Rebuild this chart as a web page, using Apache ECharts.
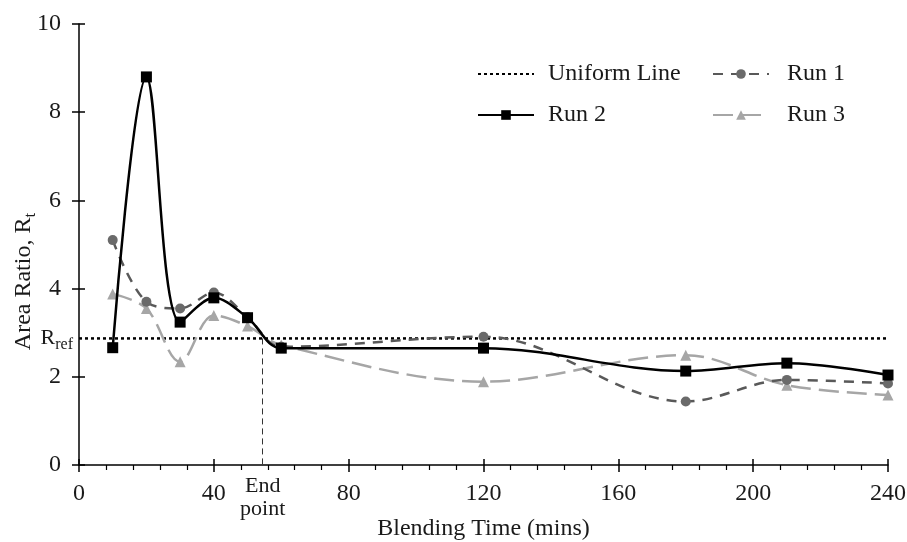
<!DOCTYPE html>
<html>
<head>
<meta charset="utf-8">
<script src="https://cdn.jsdelivr.net/npm/echarts@6/dist/echarts.min.js"></script>
<style>
html,body{margin:0;padding:0;background:#fff;}
#chart{width:907px;height:542px;}
</style>
</head>
<body>
<div id="chart"></div>
<script>
// ---- data ----
var times = [10, 20, 30, 40, 50, 60, 120, 180, 210, 240];
var run1 = [5.10, 3.70, 3.55, 3.91, 3.35, 2.68, 2.91, 1.44, 1.93, 1.85];
var run2 = [2.66, 8.80, 3.24, 3.79, 3.34, 2.65, 2.65, 2.13, 2.31, 2.04];
var run3 = [3.88, 3.55, 2.34, 3.39, 3.15, 2.72, 1.89, 2.49, 1.81, 1.59];
var rRef = 2.87;          // uniform line level
var endPoint = 54.5;      // blending end point (mins)
var xRange = [0, 240];
var yRange = [0, 10];
var xTicks = ['0', '40', '80', '120', '160', '200', '240'];
var yTicks = ['0', '2', '4', '6', '8', '10'];

var FONT = 'Liberation Serif';
var FS = 24;
var TXT = '#1a1a1a';
var SMOOTH = 0.35;
function pairs(xs, ys) { return xs.map(function (x, i) { return [x, ys[i]]; }); }

var chart = echarts.init(document.getElementById('chart'), null, { renderer: 'canvas' });

var axisCommonX = { type: 'value', min: xRange[0], max: xRange[1], interval: 40, position: 'bottom' };
var axisCommonY = { type: 'value', min: yRange[0], max: yRange[1], interval: 2, position: 'left' };

var option = {
  backgroundColor: '#fff',
  animation: false,
  grid: { left: 79, right: 19, top: 24, bottom: 77, containLabel: false, outerBoundsMode: 'none' },
  legend: [
    {
      orient: 'vertical', left: 472, top: 57, itemWidth: 56, itemHeight: 12, itemGap: 17,
      data: [
        { name: 'Uniform Line', itemStyle: { opacity: 0 } },
        'Run 2'
      ],
      textStyle: { fontFamily: FONT, fontSize: FS, color: TXT, padding: [0, 0, 0, 9] }
    },
    {
      orient: 'vertical', left: 707, top: 57, itemWidth: 56, itemHeight: 12, itemGap: 17,
      data: ['Run 1', 'Run 3'],
      textStyle: { fontFamily: FONT, fontSize: FS, color: TXT, padding: [0, 0, 0, 13] }
    }
  ],
  xAxis: [
    Object.assign({}, axisCommonX, {
      name: 'Blending Time (mins)', nameLocation: 'middle', nameGap: 52, nameMoveOverlap: false,
      nameTextStyle: { fontFamily: FONT, fontSize: FS, color: TXT },
      axisLine: { show: true, lineStyle: { color: '#000', width: 1.5 } },
      axisTick: { show: true, inside: false, length: 7, lineStyle: { color: '#000', width: 1.5 } },
      minorTick: { show: true, splitNumber: 5, length: 5, lineStyle: { color: '#000', width: 1.2 } },
      axisLabel: {
        fontFamily: FONT, fontSize: FS, color: TXT, margin: 17,
        formatter: function (v) { return xTicks.indexOf(String(v)) >= 0 ? String(v) : ''; }
      },
      splitLine: { show: false }
    }),
    Object.assign({}, axisCommonX, {
      axisLine: { show: false },
      axisTick: { show: true, inside: true, length: 6, lineStyle: { color: '#000', width: 1.5 } },
      axisLabel: { show: false },
      splitLine: { show: false }
    })
  ],
  yAxis: [
    Object.assign({}, axisCommonY, {
      name: '{a|Area Ratio, R}{b|t}', nameLocation: 'middle', nameGap: 40, nameRotate: 90,
      nameMoveOverlap: false,
      nameTextStyle: {
        fontFamily: FONT, fontSize: FS, color: TXT, padding: [0, 74, 0, 0],
        rich: {
          a: { fontFamily: FONT, fontSize: FS, color: TXT, lineHeight: 30 },
          b: { fontFamily: FONT, fontSize: 17, color: TXT, lineHeight: 17, verticalAlign: 'bottom' }
        }
      },
      axisLine: { show: true, lineStyle: { color: '#000', width: 1.5 } },
      axisTick: { show: true, inside: false, length: 7, lineStyle: { color: '#000', width: 1.5 } },
      axisLabel: {
        fontFamily: FONT, fontSize: FS, color: TXT, margin: 18,
        formatter: function (v) { return yTicks.indexOf(String(v)) >= 0 ? String(v) : ''; }
      },
      splitLine: { show: false }
    }),
    Object.assign({}, axisCommonY, {
      axisLine: { show: false },
      axisTick: { show: true, inside: true, length: 6, lineStyle: { color: '#000', width: 1.5 } },
      axisLabel: { show: false },
      splitLine: { show: false }
    })
  ],
  series: [
    {
      name: 'Uniform Line', type: 'line', z: 1,
      data: [[xRange[0], rRef], [xRange[1], rRef]],
      symbol: 'none',
      lineStyle: { color: '#000', width: 2.5, type: [3, 3] },
      itemStyle: { color: '#000' },
      markLine: {
        silent: true, symbol: 'none', animation: false,
        data: [
          {
            yAxis: rRef,
            lineStyle: { color: 'rgba(0,0,0,0)', width: 1 },
            label: {
              show: true, position: 'start', distance: 6,
              formatter: '{a|R}{b|ref}',
              rich: {
                a: { fontFamily: FONT, fontSize: 22, color: TXT, lineHeight: 28 },
                b: { fontFamily: FONT, fontSize: 16, color: TXT, lineHeight: 16, verticalAlign: 'bottom' }
              }
            }
          },
          [
            { coord: [endPoint, rRef], lineStyle: { color: '#333', width: 1, type: [6, 4] } },
            {
              coord: [endPoint, 0],
              label: {
                show: true, position: 'end', distance: 10,
                formatter: 'End\npoint',
                fontFamily: FONT, fontSize: 22, color: TXT, lineHeight: 23
              }
            }
          ]
        ]
      }
    },
    {
      name: 'Run 3', type: 'line', z: 2, smooth: SMOOTH,
      data: pairs(times, run3),
      symbol: 'triangle', symbolSize: 11,
      lineStyle: { color: '#a6a6a6', width: 2.5, type: [20, 8] },
      itemStyle: { color: '#a6a6a6' }
    },
    {
      name: 'Run 1', type: 'line', z: 3, smooth: SMOOTH,
      data: pairs(times, run1),
      symbol: 'circle', symbolSize: 10,
      lineStyle: { color: '#595959', width: 2.5, type: [10, 8] },
      itemStyle: { color: '#6a6a6a' }
    },
    {
      name: 'Run 2', type: 'line', z: 4, smooth: SMOOTH,
      data: pairs(times, run2),
      symbol: 'rect', symbolSize: 11,
      lineStyle: { color: '#000', width: 2.5 },
      itemStyle: { color: '#000' }
    }
  ]
};
chart.setOption(option);
</script>
</body>
</html>
